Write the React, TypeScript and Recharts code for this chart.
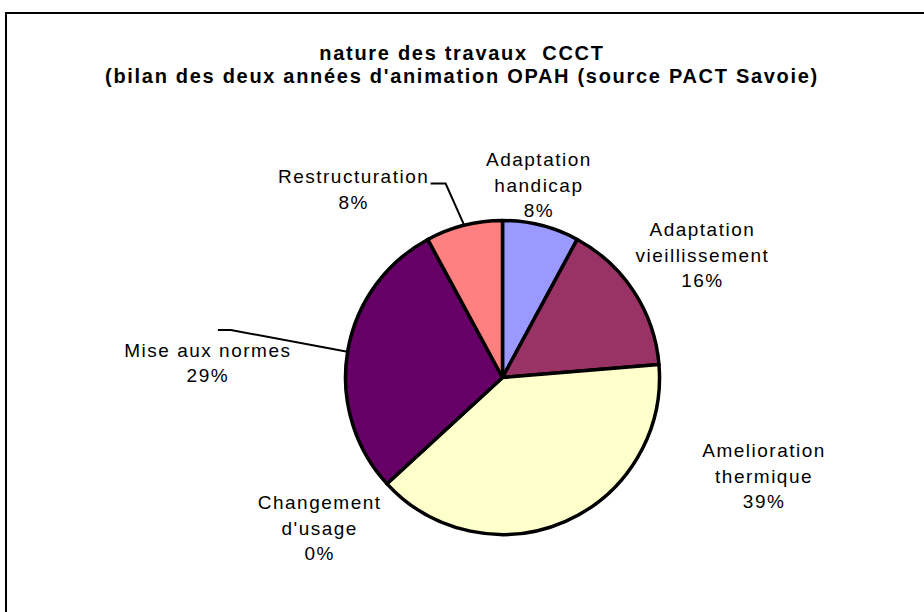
import React from "react";
import { PieChart, Pie, Cell } from "recharts";

// ─── Data ────────────────────────────────────────────────────────────────────

const categories = [
  "Adaptation handicap",
  "Adaptation vieillissement",
  "Amelioration thermique",
  "Changement d'usage",
  "Mise aux normes",
  "Restructuration",
];

// label text split on lines, as Excel wrapped them
const labelLines = [
  ["Adaptation", "handicap"],
  ["Adaptation", "vieillissement"],
  ["Amelioration", "thermique"],
  ["Changement", "d'usage"],
  ["Mise aux normes"],
  ["Restructuration"],
];

const counts = [3, 6, 15, 0, 11, 3];

const colors = ["#9999FF", "#993366", "#FFFFCC", "#CCFFFF", "#660066", "#FF8080"];

const titleLines = [
  "nature des travaux  CCCT",
  "(bilan des deux années d'animation OPAH (source PACT Savoie)",
];

// ─── Label layout (polar, relative to the pie's own radius) ────────────────
// angle: degrees clockwise from 12 o'clock, dist: multiple of outer radius.
// leader: elbow / end of the leader line, offsets from the label centre.

const labelLayout = [
  { angle: 10.7, dist: 1.25 },
  { angle: 58.4, dist: 1.495 },
  { angle: 110.6, dist: 1.78 },
  { angle: 230.6, dist: 1.507 },
  { angle: 272.9, dist: 1.879, leader: { elbow: [23, -32.5], end: [10, -32.5] } },
  { angle: 321.7, dist: 1.53, leader: { elbow: [92, -5.5], end: [77, -5.5] } },
];

const W = 924;
const H = 612;
const LINE_H = 25.5;
const FONT = "'Liberation Sans', Arial, sans-serif";
const RADIAN = Math.PI / 180;

const data = categories.map((name, i) => ({ name, value: counts[i] }));

function SliceLabel(props: any) {
  const { cx, cy, outerRadius, midAngle, percent, index } = props;
  const lay = labelLayout[index];
  if (!lay) return null;
  const lx = cx + outerRadius * lay.dist * Math.sin(lay.angle * RADIAN);
  const ly = cy - outerRadius * lay.dist * Math.cos(lay.angle * RADIAN);
  const lines = [...labelLines[index], `${Math.round((percent || 0) * 100)}%`];
  const top = ly - ((lines.length - 1) * LINE_H) / 2;

  let leader = null;
  if (lay.leader) {
    const r = outerRadius + 1.5;
    const sx = cx + r * Math.cos(-midAngle * RADIAN);
    const sy = cy + r * Math.sin(-midAngle * RADIAN);
    const ex = lx + lay.leader.elbow[0];
    const ey = ly + lay.leader.elbow[1];
    const tx = lx + lay.leader.end[0];
    const ty = ly + lay.leader.end[1];
    leader = (
      <polyline
        points={`${sx},${sy} ${ex},${ey} ${tx},${ty}`}
        fill="none"
        stroke="#000"
        strokeWidth={2}
      />
    );
  }

  return (
    <g>
      {leader}
      <text
        x={lx}
        y={top}
        textAnchor="middle"
        dominantBaseline="central"
        fill="#000"
        style={{ fontFamily: FONT, fontSize: 19, letterSpacing: 1.5 }}
      >
        {lines.map((t, k) => (
          <tspan key={k} x={lx} y={top + k * LINE_H} dominantBaseline="central">
            {t}
          </tspan>
        ))}
      </text>
    </g>
  );
}

const titleStyle = {
  fontFamily: FONT,
  fontSize: 20,
  fontWeight: "bold",
  letterSpacing: 1.7,
  whiteSpace: "pre",
} as const;

export default function App() {
  return (
    <div
      style={{
        position: "fixed",
        left: 0,
        top: 0,
        width: W,
        height: H,
        overflow: "hidden",
        background: "#fff",
      }}
    >
      {/* chart area frame, runs off the right and bottom like the source */}
      <div
        style={{
          position: "absolute",
          left: 5,
          top: 12,
          width: 940,
          height: 640,
          border: "2.5px solid #000",
          boxSizing: "border-box",
        }}
      />
      <div style={{ position: "absolute", left: 0, top: 0 }}>
        <PieChart width={W} height={H}>
          <text x={462} y={60} textAnchor="middle" fill="#000" style={titleStyle}>
            {titleLines[0]}
          </text>
          <text x={462} y={83} textAnchor="middle" fill="#000" style={titleStyle}>
            {titleLines[1]}
          </text>
          <Pie
            data={data}
            dataKey="value"
            nameKey="name"
            cx={497.5}
            cy={372.5}
            innerRadius={0}
            outerRadius={157}
            startAngle={90}
            endAngle={-270}
            stroke="#000"
            strokeWidth={3.5}
            strokeLinejoin="round"
            label={SliceLabel}
            labelLine={false}
            isAnimationActive={false}
          >
            {data.map((d, i) => (
              <Cell key={d.name} fill={colors[i]} />
            ))}
          </Pie>
        </PieChart>
      </div>
    </div>
  );
}
